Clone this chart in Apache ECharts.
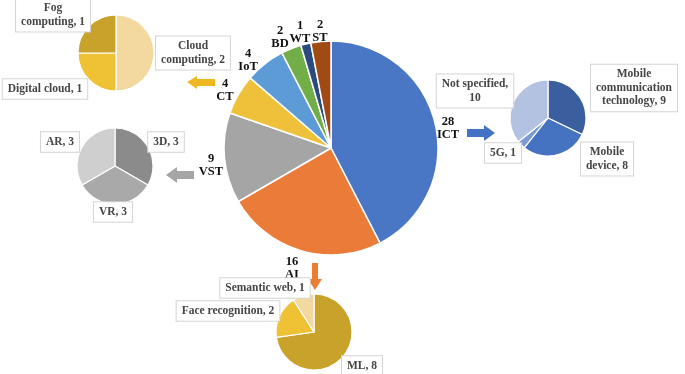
<!DOCTYPE html>
<html><head><meta charset="utf-8">
<script src="https://cdn.jsdelivr.net/npm/echarts@6/dist/echarts.min.js"></script>
<style>html,body{margin:0;padding:0;background:#fff}#c{width:685px;height:374px}</style>
</head><body><div id="c"></div>
<script>
// ---- data ----
const mainCategories = ['ICT','AI','VST','CT','IoT','BD','WT','ST'];
const mainValues = [28,16,9,4,4,2,1,2];
const cloudCategories = ['Cloud computing','Digital cloud','Fog computing'];
const cloudValues = [2,1,1];
const vstCategories = ['3D','VR','AR'];
const vstValues = [3,3,3];
const ictCategories = ['Mobile communication technology','Mobile device','5G','Not specified'];
const ictValues = [9,8,1,10];
const aiCategories = ['ML','Face recognition','Semantic web'];
const aiValues = [8,2,1];

// ---- styling / layout ----
const FONT = '"Liberation Serif","Times New Roman",serif';
const mainColors = ['#4a76c6','#ea7b38','#a5a5a5','#efc13a','#5d9bd6','#72ae48','#2a4a80','#a04a14'];
const cloudColors = ['#f3d8a0','#eec234','#c9a22b'];
const vstColors = ['#8b8b8b','#a9a9a9','#cfcfcf'];
const ictColors = ['#3b5e9e','#4672c2','#7b9bd5','#b4c2e1'];
const aiColors = ['#c9a22b','#eec234','#f3d8a0'];

const mainLabelPos = {ICT:[448,128],AI:[292,268],VST:[211,165],CT:[225,90],IoT:[248,60],BD:[280,37],WT:[300,32],ST:[320,31]};
const subLabelPos = {
  'Cloud computing':[193,53],'Digital cloud':[45,89],'Fog computing':[53,15],
  '3D':[166,142],'VR':[113,212],'AR':[60,142],
  'Mobile communication technology':[634,88],'Mobile device':[607,159],'5G':[503,153],'Not specified':[475,91],
  'ML':[362,366],'Face recognition':[228,311],'Semantic web':[265,288]
};
const subLabelText = {
  'Cloud computing':'Cloud\ncomputing, ','Fog computing':'Fog\ncomputing, ',
  'Mobile communication technology':'Mobile\ncommunication\ntechnology, ',
  'Mobile device':'Mobile\ndevice, ','Not specified':'Not specified,\n'
};

function mk(cats, vals, cols){ return cats.map((n,i)=>({name:n,value:vals[i],itemStyle:{color:cols[i]}})); }

function subSeries(cats, vals, cols, center){
  return {
    type:'pie', radius:38, center:center, startAngle:90, clockwise:true, animation:false,
    silent:true,
    itemStyle:{borderColor:'#fff',borderWidth:1.2},
    label:{show:true, position:'inside', overflow:'none', fontFamily:FONT, fontWeight:'bold', fontSize:11.5, color:'#454545',
      lineHeight:13.5, backgroundColor:'#fff', borderColor:'#d4d4d4', borderWidth:1, padding:[3,5], align:'center',
      formatter:p=> (subLabelText[p.name] || (p.name+', ')) + p.value},
    labelLine:{show:false},
    labelLayout:function(p){ const pos = subLabelPos[cats[p.dataIndex]]; return {x:pos[0], y:pos[1], align:'center', verticalAlign:'middle'}; },
    data:mk(cats, vals, cols)
  };
}

const chart = echarts.init(document.getElementById('c'), null, {renderer:'canvas'});
chart.setOption({
  backgroundColor:'#fff',
  animation:false,
  series:[
    {
      type:'pie', radius:107, center:[331,148], startAngle:90, clockwise:true, silent:true,
      itemStyle:{borderColor:'#fff',borderWidth:1.5},
      label:{show:true, position:'inside', overflow:'none', fontFamily:FONT, fontWeight:'bold', fontSize:12.5, color:'#111', lineHeight:13, align:'center',
        formatter:p=> p.value + '\n' + p.name},
      labelLine:{show:false},
      labelLayout:function(p){ const pos = mainLabelPos[mainCategories[p.dataIndex]]; return {x:pos[0], y:pos[1], align:'center', verticalAlign:'middle'}; },
      data:mk(mainCategories, mainValues, mainColors)
    },
    subSeries(cloudCategories, cloudValues, cloudColors, [116,53]),
    subSeries(vstCategories, vstValues, vstColors, [115,166]),
    subSeries(ictCategories, ictValues, ictColors, [548,118]),
    subSeries(aiCategories, aiValues, aiColors, [314,332])
  ],
  graphic:[
    {type:'polygon', shape:{points:[[187,82],[197,76],[197,79],[215,79],[215,86],[197,86],[197,89]]}, style:{fill:'#eeb820'}},
    {type:'polygon', shape:{points:[[166,175],[177,167],[177,171],[194,171],[194,179],[177,179],[177,183]]}, style:{fill:'#a5a5a5'}},
    {type:'polygon', shape:{points:[[495,133],[484,125],[484,129],[467,129],[467,137],[484,137],[484,141]]}, style:{fill:'#4472c4'}},
    {type:'polygon', shape:{points:[[315,290],[308,279],[312,279],[312,263],[318,263],[318,279],[322,279]]}, style:{fill:'#ed7d31'}}
  ]
});
</script></body></html>
